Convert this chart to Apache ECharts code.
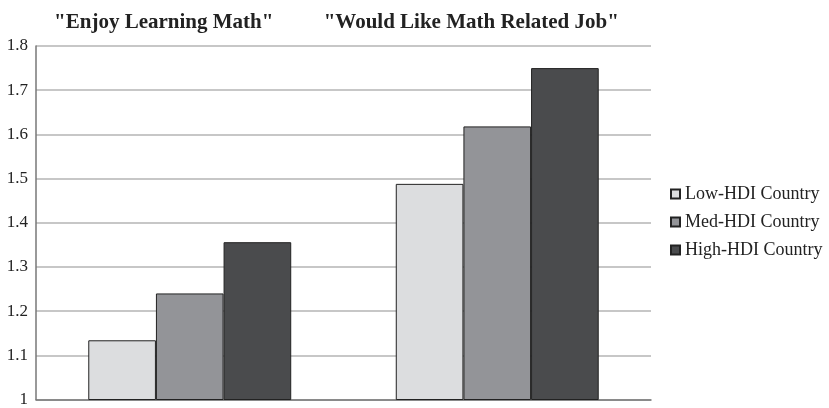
<!DOCTYPE html>
<html><head><meta charset="utf-8">
<script src="https://cdn.jsdelivr.net/npm/echarts@6/dist/echarts.min.js"></script>
<style>html,body{margin:0;padding:0;background:#fff}#c{width:829px;height:408px}</style>
</head><body><div id="c"></div>
<script>
const categories = ['"Enjoy Learning Math"', '"Would Like Math Related Job"'];
const seriesNames = ['Low-HDI Country', 'Med-HDI Country', 'High-HDI Country'];
const lowHDI = [1.134, 1.488];
const medHDI = [1.240, 1.618];
const highHDI = [1.356, 1.750];
const yTicks = [1, 1.1, 1.2, 1.3, 1.4, 1.5, 1.6, 1.7, 1.8];

const colors = ['#dcdddf', '#939498', '#4a4b4d'];
const serif = '"Liberation Serif", "DejaVu Serif", serif';
const chart = echarts.init(document.getElementById('c'));
const values = [lowHDI, medHDI, highHDI];
chart.setOption({
  animation: false,
  grid: { left: 36, right: 178, top: 46, bottom: 5 },
  legend: {
    orient: 'vertical', left: 665, top: 180, itemWidth: 9, itemHeight: 9, itemGap: 10,
    icon: 'rect',
    textStyle: { fontFamily: serif, fontSize: 18, color: '#222' },
    data: seriesNames
  },
  xAxis: [{
    type: 'category', data: categories, position: 'top',
    axisLine: { show: false }, axisTick: { show: false },
    axisLabel: { interval: 0, fontFamily: serif, fontWeight: 'bold', fontSize: 21, color: '#222', margin: 13, padding: [0, 52, 0, 0] }
  }, {
    type: 'category', data: categories, position: 'bottom',
    axisLine: { show: true, lineStyle: { color: '#777', width: 1.5 } },
    axisTick: { show: false }, axisLabel: { show: false }
  }],
  yAxis: {
    type: 'value', min: 1, max: 1.8, interval: 0.1,
    axisLine: { show: true, lineStyle: { color: '#777', width: 1.5 } },
    axisTick: { show: false },
    splitLine: { lineStyle: { color: '#b4b4b4', width: 1.5 } },
    axisLabel: { fontFamily: serif, fontSize: 17, color: '#222', margin: 8,
      formatter: v => { const t = yTicks.find(x => Math.abs(x - v) < 1e-6); return t === undefined ? '' : String(t); } }
  },
  series: seriesNames.map((n, i) => ({
    name: n, type: 'bar', data: values[i], barGap: '0%', barCategoryGap: '34%', xAxisIndex: 0,
    itemStyle: { color: colors[i], borderColor: '#222', borderWidth: 1 }
  }))
});
</script></body></html>
